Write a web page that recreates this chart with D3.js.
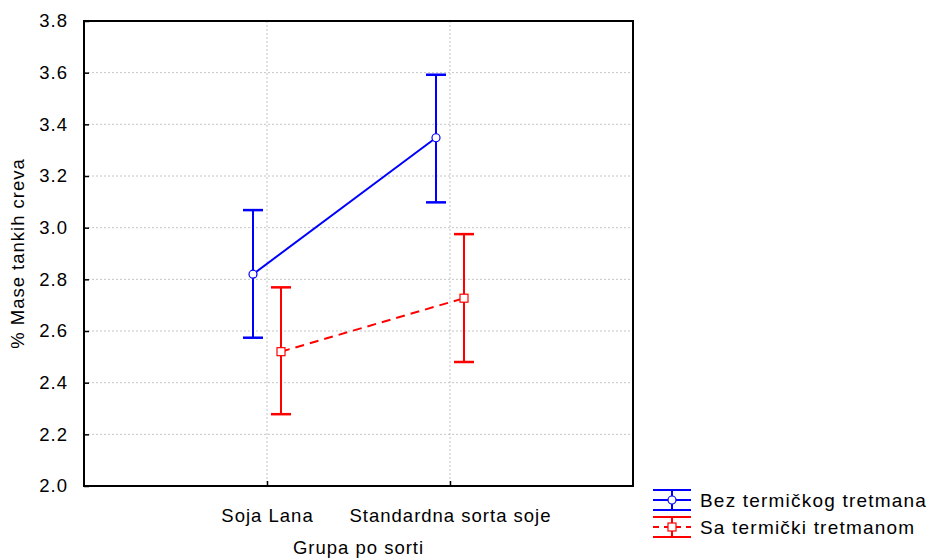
<!DOCTYPE html>
<html>
<head>
<meta charset="utf-8">
<script src="https://d3js.org/d3.v7.min.js"></script>
<style>
    body { margin: 0; background: #ffffff; }
    svg text { font-family: "Liberation Sans", Arial, sans-serif; font-size: 18.5px; letter-spacing: 1px; fill: #000000; }
</style>
</head>
<body>
<svg id="chart" width="929" height="559"></svg>
<script>
// categories on x axis
let categories = ["Soja Lana", "Standardna sorta soje"];
let seriesNames = ["Bez termičkog tretmana", "Sa termički tretmanom"];

// means and confidence limits
let bezMean  = [2.82, 3.348];
let bezLow   = [2.574, 3.098];
let bezHigh  = [3.068, 3.592];
let saMean   = [2.52, 2.727];
let saLow    = [2.278, 2.48];
let saHigh   = [2.769, 2.975];

let yTicks = [2.0, 2.2, 2.4, 2.6, 2.8, 3.0, 3.2, 3.4, 3.6, 3.8];

function load_chart(svg_name) {

    let chart = d3.select(svg_name);
    let left = 84, right = 633, top = 21, bottom = 486;

    // x position scale
    let x = d3.scalePoint()
        .domain(categories)
        .padding(1)
        .range([left, right]);

    // y position scale
    let y = d3.scaleLinear()
        .domain([2.0, 3.8])
        .range([bottom, top]);

    // grid
    chart.selectAll("hgrid")
        .data(yTicks.slice(1, -1)).enter()
        .append("line")
        .attr("x1", left).attr("x2", right)
        .attr("y1", function(d) { return y(d); })
        .attr("y2", function(d) { return y(d); })
        .style("stroke", "#c4c4c4")
        .style("stroke-width", 1)
        .style("stroke-dasharray", "2,2");

    chart.selectAll("vgrid")
        .data(categories).enter()
        .append("line")
        .attr("x1", function(d) { return x(d); })
        .attr("x2", function(d) { return x(d); })
        .attr("y1", top).attr("y2", bottom)
        .style("stroke", "#c4c4c4")
        .style("stroke-width", 1)
        .style("stroke-dasharray", "2,2");

    // axes (ticks pointing inward)
    let yAxis = d3.axisLeft(y)
        .tickValues(yTicks)
        .tickFormat(d3.format(".1f"))
        .tickSizeInner(-5)
        .tickSizeOuter(0)
        .tickPadding(16);
    let yAxisGroup = chart.append("g")
        .attr("transform", "translate(" + left + ",0)")
        .call(yAxis);

    let xAxis = d3.axisBottom(x)
        .tickSizeInner(-5)
        .tickSizeOuter(0)
        .tickPadding(23);
    let xAxisGroup = chart.append("g")
        .attr("transform", "translate(0," + bottom + ")")
        .call(xAxis);

    chart.selectAll(".domain").remove();
    chart.selectAll(".tick line").style("stroke", "#000000").style("stroke-width", 1.5);
    chart.selectAll(".tick text")
        .style("font-size", "18.5px")
        .style("font-family", "'Liberation Sans', Arial, sans-serif")
        .style("fill", "#000000");

    // frame
    chart.append("rect")
        .attr("x", left).attr("y", top)
        .attr("width", right - left).attr("height", bottom - top)
        .style("fill", "none")
        .style("stroke", "#000000")
        .style("stroke-width", 2);

    // axis titles
    chart.append("text")
        .text("% Mase tankih creva")
        .attr("transform", "translate(24," + ((top + bottom) / 2) + ") rotate(-90)")
        .style("text-anchor", "middle");

    chart.append("text")
        .text("Grupa po sorti")
        .attr("x", (left + right) / 2)
        .attr("y", 554)
        .style("text-anchor", "middle");

    // series
    let series = [
        { name: seriesNames[0], mean: bezMean, low: bezLow, high: bezHigh, color: "#0000ff", offset: -14, dash: null, marker: "circle" },
        { name: seriesNames[1], mean: saMean, low: saLow, high: saHigh, color: "#ff0000", offset: 14, dash: "9,6", marker: "square" }
    ];

    series.forEach(function(s) {
        let pts = categories.map(function(c, i) {
            return { cat: c, mean: s.mean[i], low: s.low[i], high: s.high[i] };
        });
        let px = function(d) { return x(d.cat) + s.offset; };

        // connecting line
        let line = d3.line()
            .x(px)
            .y(function(d) { return y(d.mean); });
        chart.append("path")
            .datum(pts)
            .attr("d", line)
            .style("fill", "none")
            .style("stroke", s.color)
            .style("stroke-width", 2)
            .style("stroke-dasharray", s.dash);

        // error bars
        chart.selectAll("ebar")
            .data(pts).enter()
            .append("line")
            .attr("x1", px).attr("x2", px)
            .attr("y1", function(d) { return y(d.low); })
            .attr("y2", function(d) { return y(d.high); })
            .style("stroke", s.color)
            .style("stroke-width", 2);

        ["low", "high"].forEach(function(k) {
            chart.selectAll("cap")
                .data(pts).enter()
                .append("line")
                .attr("x1", function(d) { return px(d) - 10; })
                .attr("x2", function(d) { return px(d) + 10; })
                .attr("y1", function(d) { return y(d[k]); })
                .attr("y2", function(d) { return y(d[k]); })
                .style("stroke", s.color)
                .style("stroke-width", 2.5);
        });

        // markers
        if (s.marker == "circle") {
            chart.selectAll("mark")
                .data(pts).enter()
                .append("circle")
                .attr("cx", px)
                .attr("cy", function(d) { return y(d.mean); })
                .attr("r", 4)
                .style("fill", "#ffffff")
                .style("stroke", s.color)
                .style("stroke-width", 1.2);
        } else {
            chart.selectAll("mark")
                .data(pts).enter()
                .append("rect")
                .attr("x", function(d) { return px(d) - 4; })
                .attr("y", function(d) { return y(d.mean) - 4; })
                .attr("width", 8).attr("height", 8)
                .style("fill", "#ffffff")
                .style("stroke", s.color)
                .style("stroke-width", 1.2);
        }
    });

    // legend
    let legendY = [500, 527];
    series.forEach(function(s, i) {
        let cy = legendY[i];
        let g = chart.append("g");
        [-10, 0, 10].forEach(function(dy) {
            g.append("line")
                .attr("x1", 653).attr("x2", 691)
                .attr("y1", cy + dy).attr("y2", cy + dy)
                .style("stroke", s.color)
                .style("stroke-width", 2)
                .style("stroke-dasharray", dy == 0 ? s.dash ? "6,5" : null : null);
        });
        g.append("line")
            .attr("x1", 672).attr("x2", 672)
            .attr("y1", cy - 10).attr("y2", cy + 10)
            .style("stroke", s.color)
            .style("stroke-width", 2);
        if (s.marker == "circle") {
            g.append("circle")
                .attr("cx", 672).attr("cy", cy).attr("r", 4)
                .style("fill", "#ffffff").style("stroke", s.color).style("stroke-width", 1.2);
        } else {
            g.append("rect")
                .attr("x", 668).attr("y", cy - 4).attr("width", 8).attr("height", 8)
                .style("fill", "#ffffff").style("stroke", s.color).style("stroke-width", 1.2);
        }
        g.append("text")
            .text(s.name)
            .attr("x", 700)
            .attr("y", cy + 7)
            .style("font-size", "19px")
            .style("letter-spacing", "1.2px");
    });
}

load_chart("#chart");
</script>
</body>
</html>
